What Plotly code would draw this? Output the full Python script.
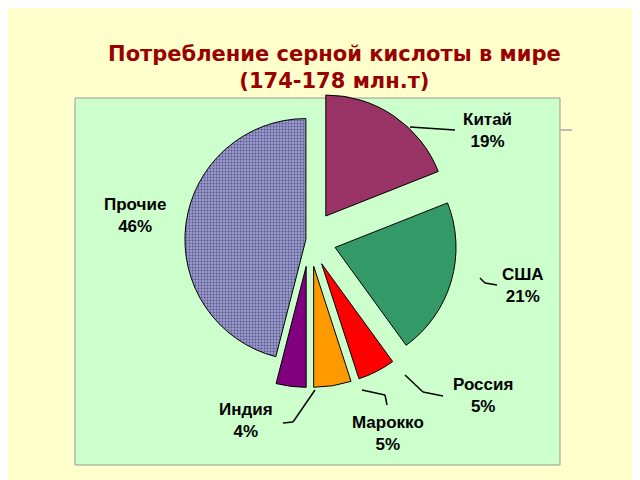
import plotly.graph_objects as go

countries = ["Китай", "США", "Россия", "Марокко", "Индия", "Прочие"]
shares = [19, 21, 5, 5, 4, 46]
colors = ["#993366", "#339966", "#FF0000", "#FF9900", "#800080", "#9999CC"]
pulls = [0.24, 0.22, 0.22, 0.22, 0.22, 0.03]

# the page is drawn with an ~8px offset, compensate
OFF = 8
def px(x):
    return (x - OFF) / 640
def py(y):
    return 1 - (y - OFF) / 480

fig = go.Figure()
fig.add_trace(go.Pie(
    labels=countries, values=shares, sort=False, direction="clockwise", rotation=0,
    pull=pulls, textinfo="none", hoverinfo="label+percent",
    marker=dict(colors=colors, line=dict(color="#000000", width=1),
                pattern=dict(shape=["", "", "", "", "", "."], fgcolor="#555588",
                             bgcolor="#9999CC", size=3, solidity=0.3)),
    domain=dict(x=[px(122), px(497)], y=[py(390), py(90)]),
    showlegend=False,
))

# label centers (px in the picture)
lab_x = [487, 523, 483, 388, 246, 135]
lab_y = [130, 285, 395, 433, 420, 215]
# leader polylines (px)
leaders = [
    [(410, 127), (455, 130)],
    [(480, 278), (485, 283), (497, 285)],
    [(405, 375), (423, 392), (443, 396)],
    [(362, 390), (385, 395), (387, 405)],
    [(315, 390), (293, 422), (283, 423)],
]
for i, name in enumerate(countries):
    fig.add_annotation(x=px(lab_x[i]), y=py(lab_y[i]), xref="paper", yref="paper",
                       xanchor="center", yanchor="middle",
                       text=f"<b>{name}<br>{shares[i]}%</b>", showarrow=False,
                       font=dict(family="Liberation Sans", size=17, color="#000000"),
                       align="center")
for pts in leaders:
    for (x0, y0), (x1, y1) in zip(pts[:-1], pts[1:]):
        fig.add_shape(type="line", xref="paper", yref="paper",
                      x0=px(x0), y0=py(y0), x1=px(x1), y1=py(y1),
                      line=dict(color="#000000", width=1.5))

fig.add_shape(type="line", xref="paper", yref="paper", x0=px(560), x1=px(572),
              y0=py(130), y1=py(130), line=dict(color="#BBBBBB", width=2))
fig.add_shape(type="rect", xref="paper", yref="paper", x0=px(75), x1=px(560),
              y0=py(465), y1=py(98),
              fillcolor="#CCFFCC", line=dict(color="#999999", width=1), layer="below")

fig.update_layout(
    width=640, height=480, margin=dict(l=0, r=0, t=0, b=0),
    paper_bgcolor="#FFFFCC", plot_bgcolor="#FFFFCC",
    title=dict(text="<b>Потребление серной кислоты в мире<br>(174-178 млн.т)</b>",
               x=0.51, y=0.89, xanchor="center", yanchor="middle",
               font=dict(family="DejaVu Sans", size=21, color="#990000")),
)
fig.write_html("out.html")
